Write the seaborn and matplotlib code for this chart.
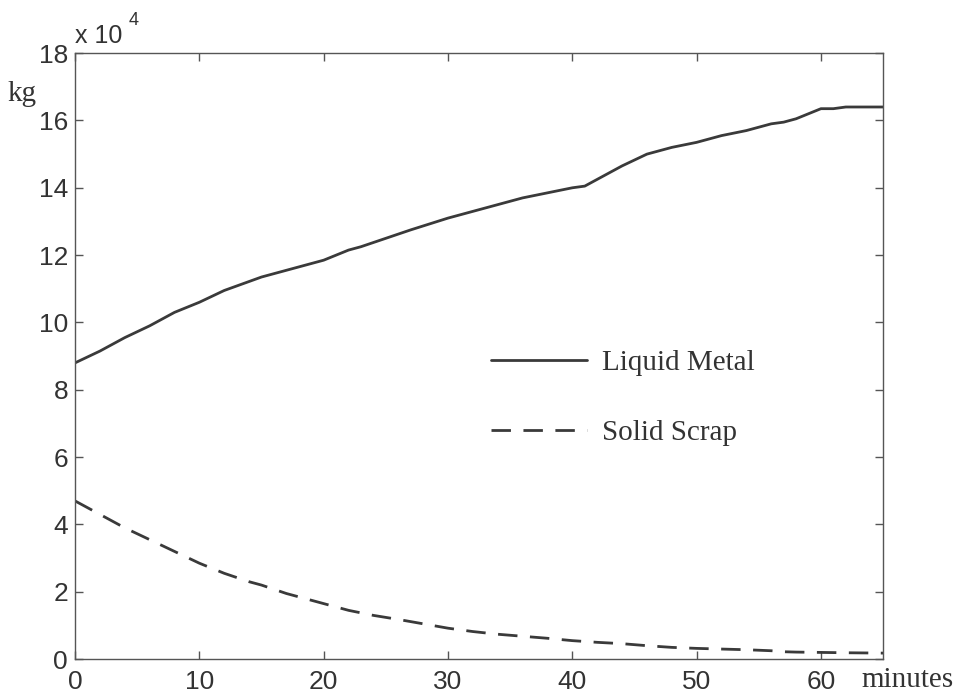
import matplotlib
matplotlib.use("Agg")
import matplotlib.pyplot as plt
import seaborn as sns
import pandas as pd

# Data (values in units of 10^4 kg)
liquid_t = [0, 2, 4, 6, 8, 10, 12, 15, 18, 20, 21, 22, 23, 25, 27, 30, 32, 34, 36, 38, 40, 41, 43, 44, 46, 48, 50, 52, 54, 56, 57, 58, 60, 61, 62, 65]
liquid_v = [8.8, 9.15, 9.55, 9.9, 10.3, 10.6, 10.95, 11.35, 11.65, 11.85, 12.0, 12.15, 12.25, 12.5, 12.75, 13.1, 13.3, 13.5, 13.7, 13.85, 14.0, 14.05, 14.45, 14.65, 15.0, 15.2, 15.35, 15.55, 15.7, 15.9, 15.95, 16.05, 16.35, 16.35, 16.4, 16.4]
scrap_t = [0, 1, 2, 4, 6, 8, 10, 12, 14, 15, 17, 18, 20, 22, 24, 26, 28, 30, 32, 34, 36, 38, 40, 42, 44, 46, 48, 50, 52, 54, 56, 57, 58, 60, 62, 65]
scrap_v = [4.7, 4.5, 4.3, 3.9, 3.55, 3.2, 2.85, 2.55, 2.3, 2.2, 1.95, 1.85, 1.65, 1.45, 1.3, 1.18, 1.05, 0.92, 0.82, 0.74, 0.68, 0.62, 0.55, 0.5, 0.46, 0.4, 0.35, 0.32, 0.3, 0.28, 0.25, 0.22, 0.21, 0.2, 0.19, 0.18]
series_names = ["Liquid Metal", "Solid Scrap"]
x_ticks = [0, 10, 20, 30, 40, 50, 60]
y_ticks = [0, 2, 4, 6, 8, 10, 12, 14, 16, 18]

df = pd.concat([
    pd.DataFrame({"t": liquid_t, "v": liquid_v, "series": series_names[0]}),
    pd.DataFrame({"t": scrap_t, "v": scrap_v, "series": series_names[1]}),
])

sns.set_style("ticks")
plt.rcParams["font.family"] = ["Liberation Sans", "DejaVu Sans"]

fig = plt.figure(figsize=(9.62, 6.99), dpi=100)
ax = fig.add_axes([0.078, 0.057, 0.840, 0.867])

line_color = "#3a3a3a"
sns.lineplot(data=df, x="t", y="v", style="series", ax=ax,
             color=line_color, linewidth=2.0,
             dashes={series_names[0]: "", series_names[1]: (7, 4.5)},
             legend=True)

ax.set_xlim(0, 65)
ax.set_ylim(0, 18)
ax.set_xticks(x_ticks)
ax.set_yticks(y_ticks)
ax.set_xlabel("")
ax.set_ylabel("")
for s in ax.spines.values():
    s.set_color("#555555")
    s.set_linewidth(1.0)
ax.tick_params(direction="in", top=True, right=True, length=6, width=1.0,
               colors="#555555", labelcolor="#333333", labelsize=19, pad=5)
ax.tick_params(axis="x", pad=8)

serif = ["Liberation Serif", "DejaVu Serif"]
leg = ax.legend(handles=ax.get_legend().legend_handles, labels=series_names,
                loc="upper left", bbox_to_anchor=(0.5, 0.53), frameon=False,
                prop={"family": serif, "size": 21}, handlelength=3.3,
                handletextpad=0.5, labelspacing=1.5, borderaxespad=0)
for h in leg.legend_handles:
    h.set_color(line_color)
    h.set_linewidth(2.0)
for txt in leg.get_texts():
    txt.set_color("#333333")

fig.text(0.078, 0.932, "x 10", fontsize=18, color="#333333", ha="left", va="bottom")
fig.text(0.134, 0.958, "4", fontsize=13, color="#333333", ha="left", va="bottom")
fig.text(0.008, 0.865, "kg", fontsize=21, color="#333333", family=serif, ha="left", va="center")
fig.text(0.895, 0.027, "minutes", fontsize=21, color="#333333", family=serif, ha="left", va="center")

fig.savefig("out.png", dpi=100)
